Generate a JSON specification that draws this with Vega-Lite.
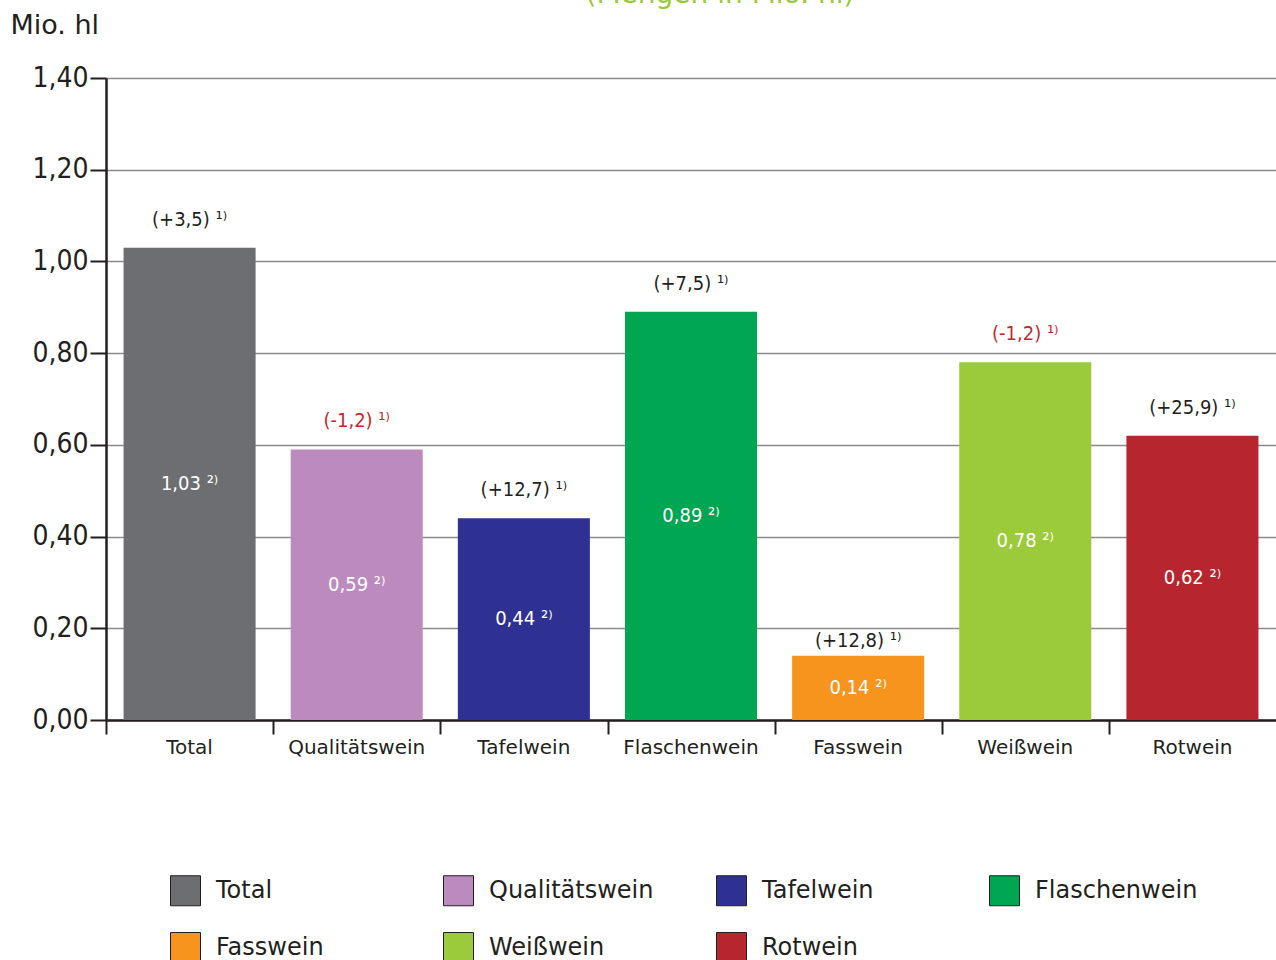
{
  "$schema": "https://vega.github.io/schema/vega-lite/v6.json",
  "width": 1170,
  "height": 642,
  "autosize": {"type": "none"},
  "padding": {"left": 106, "top": 78, "right": 0, "bottom": 240},
  "background": "white",
  "title": {
    "text": "(Mengen in Mio. hl)",
    "color": "#9bc93b",
    "fontSize": 28,
    "font": "DejaVu Sans",
    "fontWeight": "normal",
    "anchor": "middle",
    "dx": 29,
    "dy": -2,
    "offset": 0
  },
  "config": {
    "view": {"stroke": null},
    "font": "DejaVu Sans",
    "text": {"font": "DejaVu Sans Condensed"}
  },
  "data": {
    "values": [
      {"cat": "Total", "value": 1.03, "inner": "1,03 ²⁾", "change": "(+3,5) ¹⁾", "neg": false},
      {"cat": "Qualitätswein", "value": 0.59, "inner": "0,59 ²⁾", "change": "(-1,2) ¹⁾", "neg": true},
      {"cat": "Tafelwein", "value": 0.44, "inner": "0,44 ²⁾", "change": "(+12,7) ¹⁾", "neg": false},
      {"cat": "Flaschenwein", "value": 0.89, "inner": "0,89 ²⁾", "change": "(+7,5) ¹⁾", "neg": false},
      {"cat": "Fasswein", "value": 0.14, "inner": "0,14 ²⁾", "change": "(+12,8) ¹⁾", "neg": false},
      {"cat": "Weißwein", "value": 0.78, "inner": "0,78 ²⁾", "change": "(-1,2) ¹⁾", "neg": true},
      {"cat": "Rotwein", "value": 0.62, "inner": "0,62 ²⁾", "change": "(+25,9) ¹⁾", "neg": false}
    ]
  },
  "encoding": {
    "x": {
      "field": "cat",
      "type": "nominal",
      "sort": null,
      "scale": {"paddingInner": 0.21, "paddingOuter": 0.105},
      "axis": {
        "title": null,
        "labelAngle": 0,
        "labelFontSize": 20,
        "labelFont": "DejaVu Sans",
        "labelColor": "#231f20",
        "labelPadding": 3,
        "bandPosition": -0.128,
        "tickSize": 14,
        "tickWidth": 2,
        "tickColor": "#231f20",
        "domainColor": "#231f20",
        "domainWidth": 2.5,
        "grid": false
      }
    }
  },
  "layer": [
    {
      "mark": {"type": "bar"},
      "encoding": {
        "y": {
          "field": "value",
          "type": "quantitative",
          "scale": {"domain": [0, 1.4], "nice": false},
          "axis": {
            "values": [0, 0.2, 0.4, 0.6, 0.8, 1.0, 1.2, 1.4],
            "labelExpr": "replace(format(datum.value, '.2f'), '.', ',')",
            "labelFontSize": 28,
            "labelFont": "DejaVu Sans Condensed",
            "labelColor": "#231f20",
            "labelPadding": 2,
            "tickSize": 16,
            "tickWidth": 2,
            "tickColor": "#231f20",
            "domainColor": "#231f20",
            "domainWidth": 2.5,
            "gridColor": "#8a8a8a",
            "gridWidth": 1.5,
            "title": "Mio. hl",
            "titleAngle": 0,
            "titleAlign": "left",
            "titleBaseline": "alphabetic",
            "titleX": -96,
            "titleY": -45,
            "titleFontSize": 27,
            "titleFont": "DejaVu Sans",
            "titleFontWeight": "normal",
            "titleColor": "#231f20"
          }
        },
        "color": {
          "field": "cat",
          "type": "nominal",
          "sort": null,
          "scale": {
            "domain": ["Total", "Qualitätswein", "Tafelwein", "Flaschenwein", "Fasswein", "Weißwein", "Rotwein"],
            "range": ["#6d6e71", "#bc8abf", "#2e3192", "#00a651", "#f7941d", "#9bcb3b", "#b7252f"]
          },
          "legend": {
            "title": null,
            "orient": "none",
            "legendX": 64,
            "legendY": 797,
            "direction": "horizontal",
            "columns": 4,
            "gridAlign": "all",
            "columnPadding": 60,
            "rowPadding": 22,
            "padding": 0,
            "symbolType": "square",
            "symbolSize": 900,
            "symbolStrokeColor": "#231f20",
            "symbolStrokeWidth": 1,
            "symbolOpacity": 1,
            "labelOffset": 15,
            "labelFontSize": 24,
            "labelFont": "DejaVu Sans",
            "labelColor": "#231f20",
            "labelLimit": 300
          }
        }
      }
    },
    {
      "transform": [{"calculate": "datum.value / 2", "as": "mid"}],
      "mark": {"type": "text", "color": "white", "fontSize": 20, "baseline": "middle", "align": "center"},
      "encoding": {
        "y": {"field": "mid", "type": "quantitative"},
        "text": {"field": "inner"}
      }
    },
    {
      "transform": [{"filter": "datum.cat !== 'Fasswein'"}],
      "mark": {"type": "text", "fontSize": 20, "baseline": "middle", "align": "center", "dy": -28},
      "encoding": {
        "y": {"field": "value", "type": "quantitative"},
        "text": {"field": "change"},
        "color": {
          "field": "neg",
          "type": "nominal",
          "scale": {"domain": [false, true], "range": ["#231f20", "#c1272d"]},
          "legend": null
        }
      }
    },
    {
      "transform": [{"filter": "datum.cat === 'Fasswein'"}],
      "mark": {"type": "text", "fontSize": 20, "baseline": "middle", "align": "center", "dy": -15, "color": "#231f20"},
      "encoding": {
        "y": {"field": "value", "type": "quantitative"},
        "text": {"field": "change"}
      }
    }
  ],
  "resolve": {"scale": {"color": "independent"}}
}
